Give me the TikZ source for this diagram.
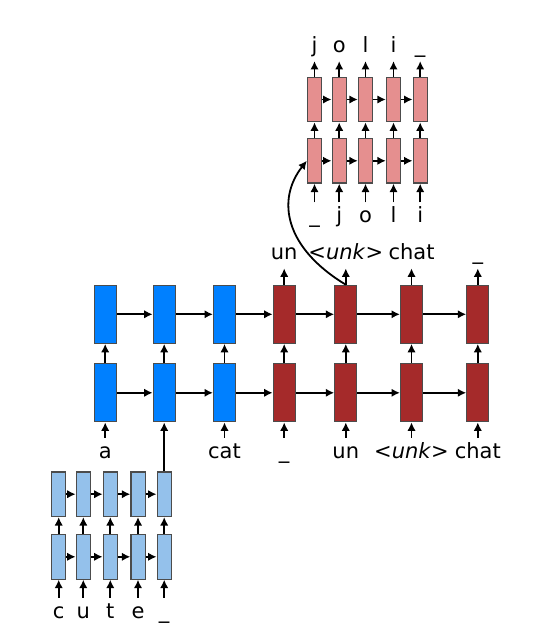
\documentclass[tikz,border=0pt]{standalone}
\usepackage{fontspec}
\setmainfont{DejaVu Sans}
\usetikzlibrary{arrows.meta}
\definecolor{encblue}{RGB}{0,128,255}
\definecolor{decred}{RGB}{165,42,42}
\definecolor{charblue}{RGB}{148,193,235}
\definecolor{charpink}{RGB}{229,143,143}

\begin{document}
\begin{tikzpicture}[x=0.5pt, y=-0.5pt,
    bigcell/.style={draw=black!70, line width=0.6pt, inner sep=0pt, minimum width=11pt, minimum height=29pt},
    smallcell/.style={draw=black!70, line width=0.6pt, inner sep=0pt, minimum width=7.1pt, minimum height=22.3pt},
    word/.style={inner sep=0pt, text height=1em, text depth=0.4em, anchor=base, font=\fontsize{10.5}{12}\selectfont},
    arr/.style={->, >={Latex[length=4.2pt, width=4.2pt]}, line width=0.9pt}]
\useasboundingbox (0,0) rectangle (552,635);

% word level encoder / decoder
\foreach \n/\x/\c in {1/105.2/encblue, 2/164.2/encblue, 3/224.5/encblue, 4/284.2/decred, 5/345.8/decred, 6/411.5/decred, 7/477.8/decred} {
    \node[bigcell, fill=\c] (lo\n) at (\x,392.8) {};
    \node[bigcell, fill=\c] (hi\n) at (\x,314.3) {};
    \draw[arr] (lo\n) -- (hi\n);
}
\foreach \a/\b in {1/2, 2/3, 3/4, 4/5, 5/6, 6/7} {
    \draw[arr] (lo\a) -- (lo\b);
    \draw[arr] (hi\a) -- (hi\b);
}
\foreach \n/\t in {1/a, 3/cat, 4/\_, 5/un, 6/\textless\textit{unk}\textgreater, 7/chat} {
    \node[word] (in\n) at (lo\n.center |- 0,458) {\t};
    \draw[arr] (in\n) -- (lo\n);
}
\foreach \n/\t in {4/un, 5/\textless\textit{unk}\textgreater, 6/chat, 7/\_} {
    \node[word] (out\n) at (hi\n.center |- 0,260) {\t};
    \draw[arr] (hi\n) -- (out\n);
}

% character level encoder for "cute"
\foreach \n/\x/\t in {1/58.7/c, 2/83.3/u, 3/110.3/t, 4/138/e, 5/164.2/\_} {
    \node[smallcell, fill=charblue] (elo\n) at (\x,556.8) {};
    \node[smallcell, fill=charblue] (ehi\n) at (\x,494.2) {};
    \node[word] (ein\n) at (\x,618.3) {\t};
    \draw[arr] (elo\n) -- (ehi\n);
    \draw[arr] (ein\n) -- (elo\n);
}
\foreach \a/\b in {1/2, 2/3, 3/4, 4/5} {
    \draw[arr] (elo\a) -- (elo\b);
    \draw[arr] (ehi\a) -- (ehi\b);
}
\draw[arr] (ehi5) -- (lo2);

% character level decoder for "joli"
\foreach \n/\x/\t/\o in {1/314.5/\_/j, 2/339.2/j/o, 3/365.5/o/l, 4/393.5/l/i, 5/420.2/i/\_} {
    \node[smallcell, fill=charpink] (plo\n) at (\x,160.8) {};
    \node[smallcell, fill=charpink] (phi\n) at (\x,99.5) {};
    \node[word] (pin\n) at (\x,222.7) {\t};
    \node[word] (pout\n) at (\x,52.7) {\o};
    \draw[arr] (plo\n) -- (phi\n);
    \draw[arr] (pin\n) -- (plo\n);
    \draw[arr] (phi\n) -- (pout\n);
}
\foreach \a/\b in {1/2, 2/3, 3/4, 4/5} {
    \draw[arr] (plo\a) -- (plo\b);
    \draw[arr] (phi\a) -- (phi\b);
}
\draw[arr] (hi5.north) .. controls (285,248) and (276,200) .. (plo1.west);
\end{tikzpicture}
\end{document}
